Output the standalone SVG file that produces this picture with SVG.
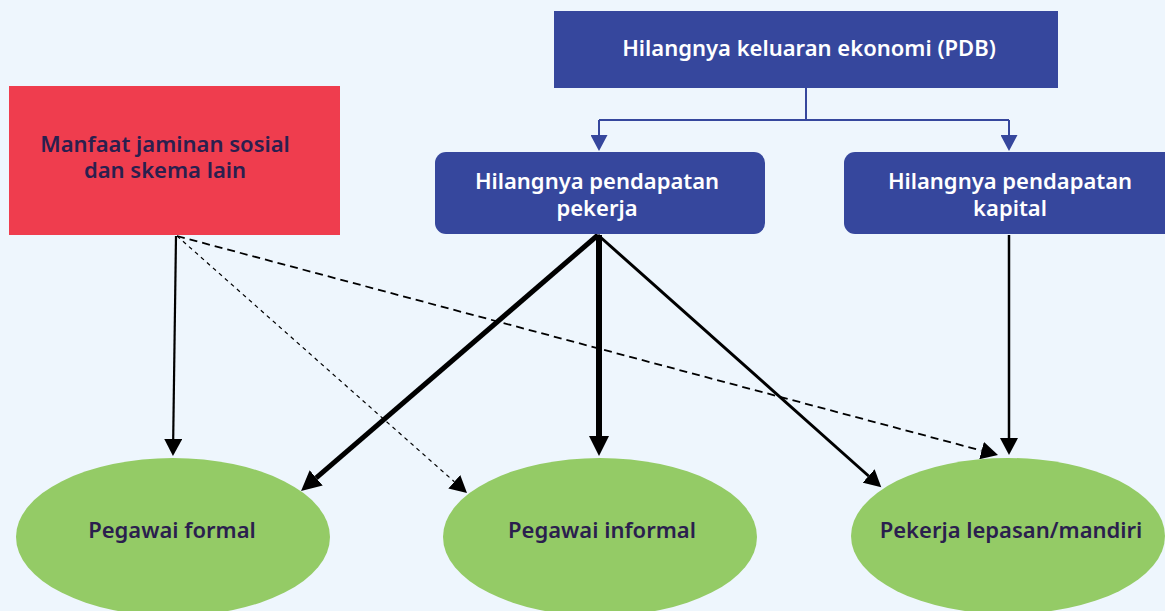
<svg xmlns="http://www.w3.org/2000/svg" width="1165" height="611" viewBox="0 0 1165 611">
<style>
.t{font-family:"Noto Sans","Open Sans","Liberation Sans",sans-serif;font-weight:600;text-anchor:middle;font-size:22px}
.w{fill:#ffffff}
.d{fill:#2B1F4E}
.blue{fill:#36479D}
.k{stroke:#000;fill:none}
</style>
<defs>
<marker id="ab" markerUnits="userSpaceOnUse" markerWidth="17" markerHeight="17" refX="0" refY="8.5" orient="auto" viewBox="0 0 17 17"><path d="M0,0 L16,8.5 L0,17 z" fill="#36479D"/></marker>
<marker id="ak" markerUnits="userSpaceOnUse" markerWidth="18" markerHeight="18" refX="0" refY="9" orient="auto" viewBox="0 0 18 18"><path d="M0,0 L17,9 L0,18 z" fill="#000"/></marker>
<marker id="akL" markerUnits="userSpaceOnUse" markerWidth="21" markerHeight="20" refX="0" refY="10" orient="auto" viewBox="0 0 21 20"><path d="M0,0 L20,10 L0,20 z" fill="#000"/></marker>
</defs>
<rect width="1165" height="611" fill="#EEF6FD"/>
<g id="connectors">
<path d="M806,88 V120 M599,120 H1009" stroke="#36479D" stroke-width="2" fill="none"/>
<path d="M599,120 V135" stroke="#36479D" stroke-width="2" fill="none" marker-end="url(#ab)"/>
<path d="M1009,120 V135" stroke="#36479D" stroke-width="2" fill="none" marker-end="url(#ab)"/>
<path class="k" d="M176,236 L173.2,439" stroke-width="2.2" marker-end="url(#ak)"/>
<path class="k" d="M177,236 L454.3,481.7" stroke-width="1.2" stroke-dasharray="4,4" marker-end="url(#ak)"/>
<path class="k" d="M177,236 L981.6,450.6" stroke-width="1.8" stroke-dasharray="8,5" marker-end="url(#ak)"/>
<path class="k" d="M598,235 L316.2,477.9" stroke-width="5" marker-end="url(#akL)"/>
<path class="k" d="M599,235 L599,436" stroke-width="6" marker-end="url(#akL)"/>
<path class="k" d="M598,235 L868.6,476" stroke-width="3" marker-end="url(#ak)"/>
<path class="k" d="M1009,235 L1009,438" stroke-width="2.5" marker-end="url(#ak)"/>
</g>
<g id="pdb">
<rect x="554" y="11" width="504" height="77" class="blue"/>
<text class="t w" x="809" y="56">Hilangnya keluaran ekonomi (PDB)</text>
</g>
<g id="manfaat">
<rect x="9" y="86" width="331" height="149" fill="#EF3D4E"/>
<text class="t d" x="165" y="152">Manfaat jaminan sosial</text>
<text class="t d" x="165" y="178">dan skema lain</text>
</g>
<g id="pekerja">
<rect x="435" y="152" width="330" height="82" rx="11" class="blue"/>
<text class="t w" x="597" y="189">Hilangnya pendapatan</text>
<text class="t w" x="597" y="216">pekerja</text>
</g>
<g id="kapital">
<rect x="844" y="152" width="340" height="82" rx="11" class="blue"/>
<text class="t w" x="1010" y="189">Hilangnya pendapatan</text>
<text class="t w" x="1010" y="216">kapital</text>
</g>
<g id="formal">
<ellipse cx="173" cy="537" rx="157" ry="79" fill="#94CB66"/>
<text class="t d" x="172" y="538">Pegawai formal</text>
</g>
<g id="informal">
<ellipse cx="600" cy="537" rx="157" ry="79" fill="#94CB66"/>
<text class="t d" x="602" y="538">Pegawai informal</text>
</g>
<g id="lepasan">
<ellipse cx="1008" cy="536" rx="157" ry="78" fill="#94CB66"/>
<text class="t d" x="1011" y="538">Pekerja lepasan/mandiri</text>
</g>
</svg>
